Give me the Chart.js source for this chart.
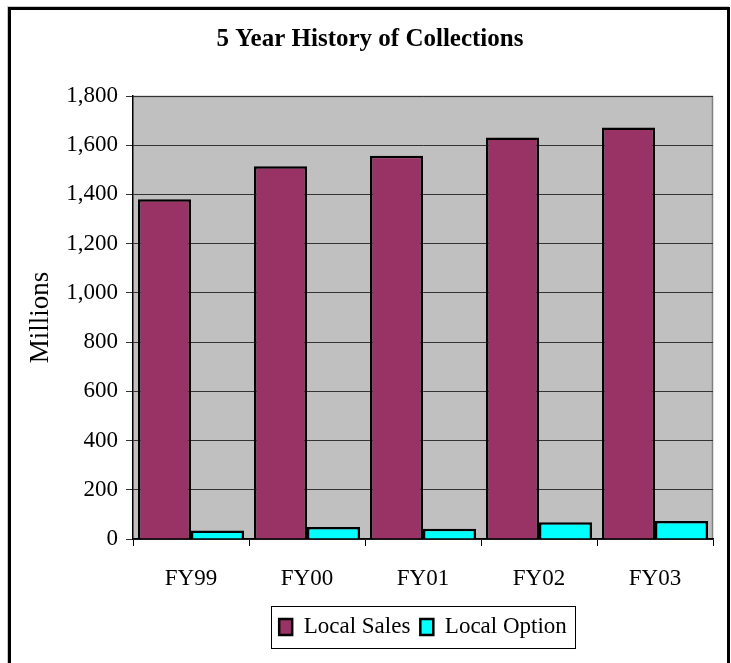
<!DOCTYPE html>
<html>
<head>
<meta charset="utf-8">
<script src="https://cdn.jsdelivr.net/npm/chart.js@4/dist/chart.umd.min.js"></script>
<style>
  html, body { margin: 0; padding: 0; background: #ffffff; overflow: hidden; }
  #wrap { position: relative; width: 731px; height: 663px; }
  #chart { position: absolute; left: 0; top: 0; }
  #frame { position: absolute; left: 8px; top: 7px; width: 722px; height: 700px;
           box-sizing: border-box; border: 3px solid #000; pointer-events: none;
           box-shadow: -1px -1px 0 #c8c8c8; }
</style>
</head>
<body>
<div id="wrap">
  <canvas id="chart" width="731" height="663"></canvas>
  <div id="frame"></div>
</div>
<script>
const categories = ["FY99", "FY00", "FY01", "FY02", "FY03"];
const localSales = [1380, 1515, 1557, 1631, 1672];
const localOption = [35, 49, 42, 68, 73];
const yTicks = [0, 200, 400, 600, 800, 1000, 1200, 1400, 1600, 1800];
const seriesNames = ["Local Sales", "Local Option"];
const chartTitle = "5 Year History of Collections";
const yTitle = "Millions";

const FONT = "'Liberation Serif', 'Times New Roman', serif";

const plotBg = {
  id: 'plotBg',
  beforeDraw(chart) {
    const {ctx, chartArea: a} = chart;
    ctx.save();
    ctx.fillStyle = '#C0C0C0';
    ctx.fillRect(a.left, a.top, a.right - a.left, a.bottom - a.top);
    ctx.strokeStyle = '#808080';
    ctx.lineWidth = 1.5;
    ctx.beginPath();
    ctx.moveTo(a.left, a.top + 0.5);
    ctx.lineTo(a.right - 0.5, a.top + 0.5);
    ctx.lineTo(a.right - 0.5, a.bottom);
    ctx.stroke();
    ctx.restore();
  }
};

const legendBox = {
  id: 'legendBox',
  afterDraw(chart) {
    const lg = chart.legend;
    if (!lg || !lg.legendHitBoxes || !lg.legendHitBoxes.length) return;
    const hb = lg.legendHitBoxes;
    let l = Infinity, r = -Infinity;
    hb.forEach(b => { l = Math.min(l, b.left); r = Math.max(r, b.left + b.width); });
    const ctx = chart.ctx;
    ctx.save();
    ctx.strokeStyle = '#000';
    ctx.lineWidth = 1;
    ctx.strokeRect(Math.round(l - 8) + 0.5, Math.round(lg.top) + 0.5,
                   Math.round(r - l + 16), Math.round(lg.bottom - lg.top - 1));
    ctx.restore();
  }
};

new Chart(document.getElementById('chart'), {
  type: 'bar',
  data: {
    labels: categories,
    datasets: [
      { label: seriesNames[0], data: localSales, backgroundColor: '#993366',
        borderColor: '#000000', borderWidth: 2.5, borderSkipped: 'bottom' },
      { label: seriesNames[1], data: localOption, backgroundColor: '#00FFFF',
        borderColor: '#000000', borderWidth: 2.5, borderSkipped: 'bottom' }
    ]
  },
  options: {
    responsive: false,
    animation: false,
    devicePixelRatio: 1,
    layout: { padding: { top: 0, left: 27, right: 18, bottom: 14.5 } },
    datasets: { bar: { categoryPercentage: 0.914, barPercentage: 1.0 } },
    plugins: {
      title: {
        display: true, text: chartTitle, color: '#000',
        font: { family: FONT, size: 25, weight: 'bold', lineHeight: 1.2 },
        padding: { top: 25, bottom: 41 }
      },
      legend: {
        position: 'bottom', fullSize: false,
        labels: {
          color: '#000', boxWidth: 13, boxHeight: 16, padding: 10,
          font: { family: FONT, size: 23 }
        }
      },
      tooltip: { enabled: false }
    },
    scales: {
      x: {
        grid: { display: true, drawOnChartArea: false, offset: true, tickLength: 7,
                color: '#000', lineWidth: 1 },
        border: { display: true, color: '#000', width: 1.5 },
        ticks: { color: '#000', font: { family: FONT, size: 23 }, padding: 19,
                 maxRotation: 0, autoSkip: false },
        afterFit(scale) { scale.height = 66.5; }
      },
      y: {
        min: 0, max: 1800,
        afterBuildTicks(scale) { scale.ticks = yTicks.map(v => ({ value: v })); },
        grid: { display: true, drawOnChartArea: true, tickLength: 7,
                color: '#333333', lineWidth: 1 },
        border: { display: true, color: '#000', width: 1.5 },
        ticks: { color: '#000', font: { family: FONT, size: 23 }, padding: 8,
                 callback: v => Number(v).toLocaleString('en-US') },
        title: { display: true, text: yTitle, color: '#000',
                 font: { family: FONT, size: 27, lineHeight: 1.0 },
                 padding: { top: 0, bottom: 0 } },
        afterFit(scale) { scale.width = 106; }
      }
    }
  },
  plugins: [plotBg, legendBox]
});
</script>
</body>
</html>
